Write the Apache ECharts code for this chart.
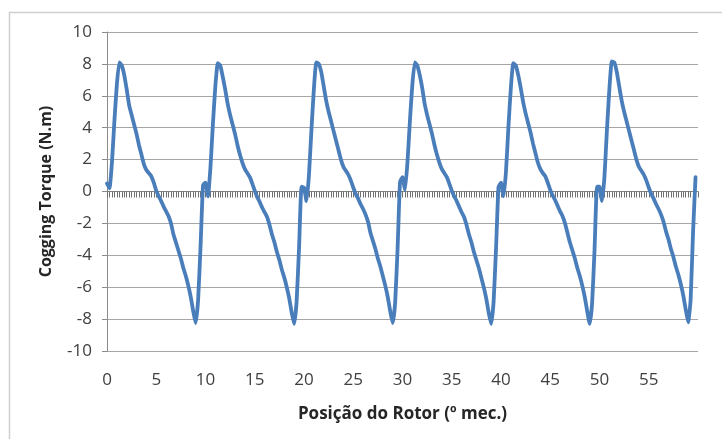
<!DOCTYPE html>
<html>
<head>
<meta charset="utf-8">
<script src="https://cdn.jsdelivr.net/npm/echarts@6/dist/echarts.min.js"></script>
<style>html,body{margin:0;padding:0;background:#fff;}#chart{width:722px;height:439px;}</style>
</head>
<body>
<div id="chart"></div>
<script>
// Position step (º mec.) between samples and cycle starts
const step = 0.25;
const cycleStarts = [0, 10, 20, 30, 40, 50];
// Cogging torque (N.m), one array per 10º cycle, sampled every 0.25º
const cycle0 = [0.5, 0.2, 1.8, 4.4, 6.7, 8.1, 7.9, 7.3, 6.4, 5.4, 4.8, 4.2, 3.6, 2.9, 2.3, 1.7, 1.35, 1.15, 0.95, 0.55, 0.05, -0.3, -0.6, -0.95, -1.25, -1.55, -2.0, -2.7, -3.2, -3.7, -4.2, -4.8, -5.3, -5.9, -6.6, -7.5, -8.25, -6.8, -3.4, 0.4];
const cycle1 = [0.55, -0.3, 1.5, 4.2, 6.6, 8.05, 7.9, 7.2, 6.4, 5.5, 4.8, 4.2, 3.6, 2.9, 2.3, 1.8, 1.4, 1.15, 0.9, 0.5, 0.05, -0.35, -0.65, -1.0, -1.3, -1.6, -2.1, -2.7, -3.2, -3.8, -4.3, -4.9, -5.4, -6.0, -6.7, -7.6, -8.3, -6.9, -3.5, 0.3];
const cycle2 = [0.25, -0.6, 1.0, 3.8, 6.4, 8.1, 8.0, 7.5, 6.6, 5.7, 5.0, 4.4, 3.8, 3.2, 2.6, 2.0, 1.55, 1.3, 1.05, 0.7, 0.25, -0.15, -0.45, -0.8, -1.1, -1.45, -1.9, -2.6, -3.1, -3.6, -4.2, -4.7, -5.3, -5.9, -6.6, -7.5, -8.25, -7.0, -3.6, 0.6];
const cycle3 = [0.9, 0.1, 1.8, 4.4, 6.7, 8.1, 7.9, 7.3, 6.5, 5.5, 4.8, 4.2, 3.6, 2.9, 2.3, 1.8, 1.4, 1.15, 0.9, 0.5, 0.05, -0.3, -0.6, -0.95, -1.3, -1.6, -2.1, -2.7, -3.2, -3.8, -4.3, -4.8, -5.4, -6.0, -6.7, -7.6, -8.3, -6.9, -3.5, 0.3];
const cycle4 = [0.55, -0.3, 1.2, 4.0, 6.5, 8.05, 7.9, 7.3, 6.5, 5.6, 4.9, 4.3, 3.7, 3.0, 2.4, 1.8, 1.4, 1.15, 0.95, 0.55, 0.1, -0.25, -0.55, -0.9, -1.25, -1.55, -2.0, -2.6, -3.2, -3.7, -4.2, -4.8, -5.3, -5.9, -6.6, -7.5, -8.3, -7.0, -3.6, 0.3];
const cycle5 = [0.3, -0.6, 0.9, 3.8, 6.4, 8.15, 8.1, 7.5, 6.6, 5.7, 5.0, 4.4, 3.8, 3.2, 2.6, 2.0, 1.55, 1.3, 1.05, 0.7, 0.25, -0.15, -0.45, -0.8, -1.1, -1.45, -1.9, -2.5, -3.0, -3.6, -4.1, -4.7, -5.2, -5.8, -6.5, -7.4, -8.2, -6.8, -2.5, 0.9];
const cycles = [cycle0, cycle1, cycle2, cycle3, cycle4, cycle5];
// Axis ticks
const xTicks = [0, 5, 10, 15, 20, 25, 30, 35, 40, 45, 50, 55];
const yTicks = [-10, -8, -6, -4, -2, 0, 2, 4, 6, 8, 10];

const data = [];
cycles.forEach((c, k) => {
  c.forEach((v, i) => data.push([cycleStarts[k] + i * step, v]));
});

const font = '"Open Sans", "Noto Sans", sans-serif';
const chart = echarts.init(document.getElementById('chart'), null, {renderer: 'canvas'});
chart.setOption({
  animation: false,
  backgroundColor: '#fff',
  graphic: [{
    type: 'rect', left: 7, top: 10, shape: {width: 740, height: 460},
    style: {fill: 'none', stroke: '#d0d0d0', lineWidth: 1.5}, silent: true
  }],
  grid: {left: 107, right: 24, top: 32, bottom: 88, containLabel: false},
  xAxis: [{
    type: 'value', min: 0, max: 60, interval: 5, position: 'bottom',
    axisLine: {show: false, onZero: false}, axisTick: {show: false}, splitLine: {show: false},
    axisLabel: {
      margin: 21, color: '#404040', fontFamily: font, fontSize: 17,
      formatter: v => xTicks.includes(v) ? String(v) : ''
    },
    name: 'Posição do Rotor (º mec.)', nameLocation: 'middle', nameGap: 55,
    nameTextStyle: {color: '#262626', fontFamily: font, fontSize: 17, fontWeight: 'bold'}
  }, {
    type: 'value', min: 0, max: 60, interval: 5, position: 'top',
    axisLine: {show: true, onZero: true, onZeroAxisIndex: 0, lineStyle: {color: '#808080', width: 1}},
    axisTick: {show: true, inside: true, length: 6, lineStyle: {color: '#707070'}},
    minorTick: {show: true, splitNumber: 20, length: 6, lineStyle: {color: '#707070'}},
    axisLabel: {show: false}, splitLine: {show: false}
  }],
  yAxis: {
    type: 'value', min: -10, max: 10, interval: 2,
    axisLine: {show: true, onZero: false, lineStyle: {color: '#8c8c8c'}},
    axisTick: {show: true, length: 5, lineStyle: {color: '#8c8c8c'}},
    splitLine: {show: true, lineStyle: {color: '#a6a6a6', width: 1.2}},
    axisLabel: {
      margin: 15, color: '#404040', fontFamily: font, fontSize: 17,
      formatter: v => yTicks.includes(v) ? String(v) : ''
    },
    name: 'Cogging Torque (N.m)', nameLocation: 'middle', nameGap: 53,
    nameTextStyle: {color: '#262626', fontFamily: font, fontSize: 16, fontWeight: 'bold'}
  },
  series: [{
    type: 'line', xAxisIndex: 0, data: data, showSymbol: false, symbol: 'none',
    lineStyle: {color: '#4a7ebb', width: 3.8, join: 'round', cap: 'round'},
    smooth: 0.15, z: 5
  }]
});
</script>
</body>
</html>
